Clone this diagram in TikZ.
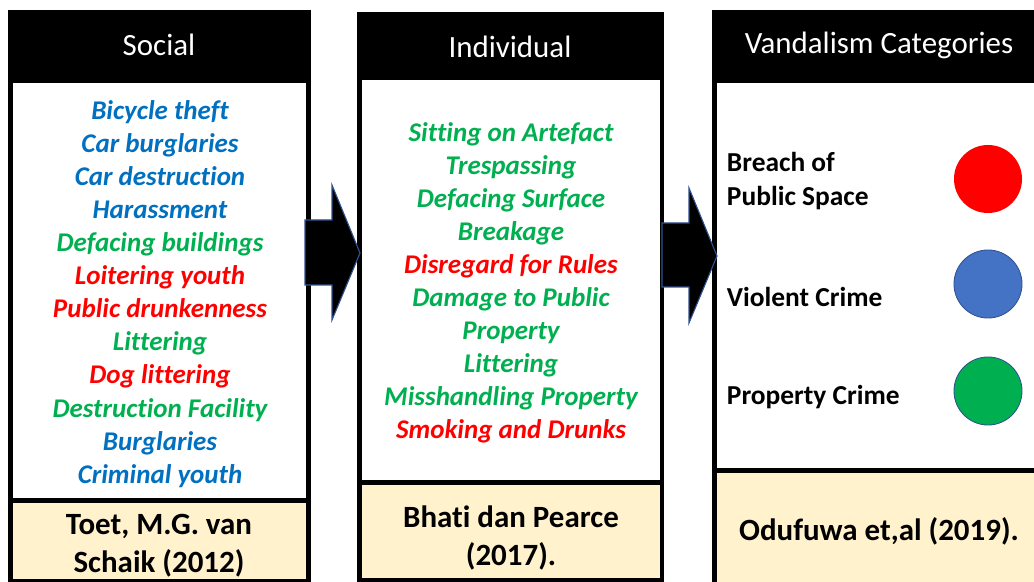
\documentclass[tikz,border=0pt]{standalone}
\usepackage{fontspec}
\setmainfont{Carlito}[Ligatures=NoCommon]
\usetikzlibrary{positioning}
\definecolor{vblue}{HTML}{0070C0}
\definecolor{vgreen}{HTML}{00B050}
\definecolor{vred}{HTML}{FF0000}
\definecolor{vcirc}{HTML}{4472C4}
\definecolor{vedge}{HTML}{2F528F}
\definecolor{vbeige}{HTML}{FFF2CC}

\begin{document}
\begin{tikzpicture}[
    x=0.025cm, y=-0.025cm,
    frame/.style={fill=black},
    panel/.style={fill=white},
    refbox/.style={fill=vbeige},
    head/.style={text=white, font=\fontsize{22}{26}\selectfont},
    item/.style={align=center, font=\fontsize{19.2}{23.5}\selectfont\bfseries\itshape},
    ref/.style={align=center, font=\fontsize{22}{27}\selectfont\bfseries},
    cat/.style={align=left, anchor=west, font=\fontsize{19.5}{24.2}\selectfont\bfseries},
    dot/.style={circle, minimum size=1.7cm, inner sep=0pt, line width=0.6pt},
    blockarrow/.style={fill=black, draw=vedge, line width=0.8pt, line join=miter}
  ]
    \useasboundingbox (0,0) rectangle (1034,582);
    \clip (0,0) rectangle (1034,582);

    % Column 1: Social
    \fill[frame] (8,10) rectangle (311,586);
    \fill[panel] (13,83) rectangle (306,498);
    \fill[refbox] (13,503) rectangle (306,579);
    \node[head] (soc-head) at (159,45) {Social};
    \node[item] (soc-list) at (160,294) {%
      \textcolor{vblue}{Bicycle theft}\\
      \textcolor{vblue}{Car burglaries}\\
      \textcolor{vblue}{Car destruction}\\
      \textcolor{vblue}{Harassment}\\
      \textcolor{vgreen}{Defacing buildings}\\
      \textcolor{vred}{Loitering youth}\\
      \textcolor{vred}{Public drunkenness}\\
      \textcolor{vgreen}{Littering}\\
      \textcolor{vred}{Dog littering}\\
      \textcolor{vgreen}{Destruction Facility}\\
      \textcolor{vblue}{Burglaries}\\
      \textcolor{vblue}{Criminal youth}};
    \node[ref] (soc-ref) at (159,546) {Toet, M.G. van\\ Schaik (2012)};

    % Column 2: Individual
    \fill[frame] (357,12) rectangle (664,586);
    \fill[panel] (362,80) rectangle (660,480);
    \fill[refbox] (362,485) rectangle (660,578);
    \node[head] (ind-head) at (510,47) {Individual};
    \node[item] (ind-list) at (511,283) {%
      \textcolor{vgreen}{Sitting on Artefact}\\
      \textcolor{vgreen}{Trespassing}\\
      \textcolor{vgreen}{Defacing Surface}\\
      \textcolor{vgreen}{Breakage}\\
      \textcolor{vred}{Disregard for Rules}\\
      \textcolor{vgreen}{Damage to Public}\\
      \textcolor{vgreen}{Property}\\
      \textcolor{vgreen}{Littering}\\
      \textcolor{vgreen}{Misshandling Property}\\
      \textcolor{vred}{Smoking and Drunks}};
    \node[ref] (ind-ref) at (511,538) {Bhati dan Pearce\\ (2017).};

    % Column 3: Vandalism Categories
    \fill[frame] (712,10) rectangle (1050,590);
    \fill[panel] (717,83) rectangle (1045,468);
    \fill[refbox] (717,473) rectangle (1045,590);
    \node[head] (cat-head) at (879,45) {Vandalism Categories};
    \node[cat] (breach) at (722,181) {Breach of\\ Public Space};
    \node[cat] (violent) at (722,297) {Violent Crime};
    \node[cat] (property) at (722,397) {Property Crime};
    \node[dot, fill=vred] (breach-dot) at (988,179) {};
    \node[dot, fill=vcirc, draw=vedge] (violent-dot) at (988,284) {};
    \node[dot, fill=vgreen, draw=vedge] (property-dot) at (988,391) {};
    \node[ref] (cat-ref) at (879,531) {Odufuwa et,al (2019).};

    % Block arrows between columns
    \draw[blockarrow] (305,220) -- (332,220) -- (332,185) -- (360,253)
      -- (332,320) -- (332,285) -- (305,285) -- cycle;
    \draw[blockarrow] (662,223) -- (689,223) -- (689,188) -- (717,256)
      -- (689,323) -- (689,287) -- (662,287) -- cycle;
  \end{tikzpicture}
\end{document}
